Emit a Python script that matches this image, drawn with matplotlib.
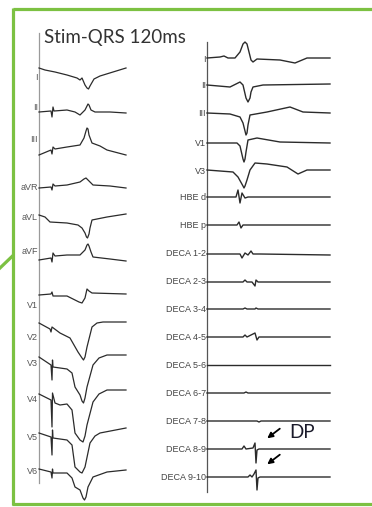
import matplotlib
matplotlib.use("Agg")
import matplotlib.pyplot as plt

# left panel: 12-lead surface ECG (t = time step, v = amplitude above the lead row)
left_leads = ["I", "II", "III", "aVR", "aVL", "aVF", "V1", "V2", "V3", "V4", "V5", "V6"]
left_t = [
    [0, 6, 16, 28, 38, 41, 43, 46, 48, 49.5, 51, 55, 61, 87],
    [0, 12, 13, 14, 15, 28, 36, 41, 46, 48, 49, 50, 52, 56, 71, 87],
    [0, 12, 13, 14, 16, 28, 41, 45, 47, 48, 49, 50, 53, 61, 68, 87],
    [0, 12, 13, 14, 16, 28, 41, 45, 47, 49, 51, 54, 71, 87],
    [0, 6, 11, 28, 39, 43, 46, 47.5, 48.5, 50, 51, 53, 68, 87],
    [0, 12, 13, 14, 16, 28, 41, 46, 48, 49, 50, 52, 54, 71, 87],
    [0, 12, 13, 14, 28, 36, 40, 43, 46, 48, 50, 53, 87],
    [0, 11, 12, 13, 21, 31, 39, 43, 44.5, 46, 48, 53, 58, 64, 87],
    [0, 12, 13, 13.5, 14, 28, 33, 36, 41, 43, 44.5, 46, 48, 54, 60, 68, 87],
    [0, 12, 13, 13.5, 16, 21, 28, 33, 36, 41, 44, 46, 48, 54, 60, 68, 87],
    [0, 12, 13, 13.5, 14, 28, 33, 36, 41, 43, 46, 51, 56, 61, 87],
    [0, 12, 13, 13.5, 14, 28, 33, 36, 41, 44, 45.5, 47, 49, 54, 68, 87],
]
left_v = [
    [9, 7, 5, 2, -1, -3, -1, -8, -11, -12, -9, -2, 1, 9],
    [-4, -3, -9, 1, -3, -2, -4, -7, -2, 2, 4, 3, -2, -4, -4, -5],
    [-16, -11, -15, -8, -10, -8, -6, 1, 8, 11, 10, 4, -4, -7, -11, -16],
    [0, 1, -2, 4, 2, 3, 6, 9, 10, 8, 6, 3, 2, 0],
    [3, 1, -4, -5, -7, -10, -15, -19, -20, -16, -10, -2, 1, 4],
    [-8, -6, -10, -1, -4, -3, -3, 2, 7, 8, 6, 0, -5, -7, -9],
    [11, 12, 14, 10, 10, 6, 4, 3, 8, 17, 15, 13, 12],
    [14, 8, 5, 10, 4, -1, -15, -21, -23, -20, -10, 10, 14, 15, 15],
    [7, -1, -16, 4, -3, -5, -9, -23, -31, -37, -39, -34, -23, -1, 6, 9, 9],
    [6, 0, -27, 7, -3, -5, -4, -10, -33, -40, -42, -36, -25, -2, 6, 10, 10],
    [4, 0, -18, 7, -1, -3, -8, -30, -35, -36, -30, -6, 1, 4, 9],
    [3, 0, -6, 3, -1, -1, -6, -15, -18, -26, -28, -25, -15, -5, 0, 2],
]

# right panel: surface leads + intracardiac electrograms
right_leads = ["I", "II", "III", "V1", "V3", "HBE d", "HBE p", "DECA 1-2", "DECA 2-3",
               "DECA 3-4", "DECA 4-5", "DECA 5-6", "DECA 6-7", "DECA 7-8", "DECA 8-9", "DECA 9-10"]
right_t = [
    [0, 13, 17, 21, 28, 33, 36, 38, 40, 42, 44, 46, 50, 73, 88, 100, 123],
    [0, 23, 29, 33, 36, 39, 41, 43, 44, 46, 56, 123],
    [0, 23, 33, 36, 38, 39, 40, 41, 43, 60, 83, 96, 123],
    [0, 30, 33, 36, 37, 38, 39, 41, 50, 73, 123],
    [0, 26, 31, 36, 37, 38, 40, 43, 48, 60, 80, 91, 100, 123],
    [0, 29, 31, 33, 35, 38, 41, 123],
    [0, 30, 32, 34, 36, 123],
    [0, 33, 35, 38, 41, 44, 46, 53, 123],
    [0, 36, 38, 40, 45, 48, 49, 51, 123],
    [0, 36, 38, 40, 48, 49, 51, 123],
    [0, 36, 38, 40, 48, 50, 52, 123],
    [0, 123],
    [0, 37, 39, 41, 123],
    [0, 50, 52, 54, 123],
    [0, 35, 37, 39, 46, 48, 49, 50, 52, 123],
    [0, 41, 43, 45, 47, 49, 50, 51, 53, 123],
]
right_v = [
    [1, 2, 3, 1, 1, 7, 15, 17, 15, 7, -1, -3, 0, -1, -4, 1, 1],
    [1, -1, 2, 4, 1, -12, -16, -12, -6, -1, 1, 2],
    [0, -1, -4, -10, -18, -22, -20, -12, -2, 1, 6, 1, 0],
    [0, 0, -3, -16, -19, -16, -9, 3, 5, 1, 0],
    [1, -1, -6, -15, -17, -15, -9, 1, 8, 7, 4, -3, 1, 1],
    [0, 0, 7, -6, 4, -1, 0, 0],
    [0, 0, 3, -3, 0, 0],
    [0, 0, -4, 1, -1, 3, 0, 0, -1],
    [0, 0, 2, 0, 0, -4, 2, 0, 0],
    [0, 0, 1, 0, 0, 1, 0, 0],
    [0, 0, 2, 0, 4, -3, 0, 0],
    [0, 0],
    [0, 0, 1, 0, 0],
    [0, 0, -1, 0, 0],
    [0, 0, 3, 0, 1, 6, -14, -1, 0, 0],
    [0, 0, 2, 0, 3, 7, -13, -1, 0, 0],
]

# layout (pixel coordinates)
left_rows = [77, 108, 139, 188, 218, 252, 306, 337, 364, 400, 437, 472]
right_rows = [59, 86, 113, 143, 171, 197, 225, 254, 282, 309, 337, 365, 393, 421, 449, 477]
left_x0, right_x0 = 39, 207
green = "#7cc142"
trace_col = "#2b2b2b"

fig = plt.figure(figsize=(3.72, 5.07), dpi=100)
ax = fig.add_axes([0, 0, 1, 1])
ax.set_xlim(0, 372)
ax.set_ylim(507, 0)
ax.axis("off")

# green frame
ax.plot([12.5, 372], [8.5, 8.5], color=green, lw=2.3, solid_capstyle="butt")
ax.plot([12.5, 12.5], [7.5, 505], color=green, lw=2.3, solid_capstyle="butt")
ax.plot([11.5, 372], [504, 504], color=green, lw=2.3, solid_capstyle="butt")
ax.plot([0, 12.5], [268, 256], color=green, lw=2.3)

ax.text(44, 37, "Stim-QRS 120ms", fontsize=13.5, family="Lato", color="#333333",
        ha="left", va="center")

# axis lines
ax.plot([left_x0, left_x0], [33, 483], color="#9a9a9a", lw=0.9)
ax.plot([right_x0, right_x0], [42, 492], color="#555555", lw=0.9)

for name, row, t, v in zip(left_leads, left_rows, left_t, left_v):
    ax.plot([left_x0 + ti for ti in t], [row - vi for vi in v], color=trace_col, lw=0.9)
    ax.text(left_x0 - 1, row, name, fontsize=6.5, family="Liberation Sans", color="#555555",
            ha="right", va="center")

for name, row, t, v in zip(right_leads, right_rows, right_t, right_v):
    ax.plot([right_x0 + ti for ti in t], [row - vi for vi in v], color=trace_col, lw=1.0)
    ax.text(right_x0 - 1, row, name, fontsize=6.5, family="Liberation Sans", color="#444444",
            ha="right", va="center")

# DP annotation
ax.text(289, 432, "DP", fontsize=13.5, family="Lato", color="#1a1a2a", ha="left", va="center")
ax.annotate("", xy=(265, 440), xytext=(282, 427),
            arrowprops=dict(arrowstyle="-|>", color="black", lw=1.3, mutation_scale=8))
ax.annotate("", xy=(265, 466), xytext=(282, 453),
            arrowprops=dict(arrowstyle="-|>", color="black", lw=1.3, mutation_scale=8))

fig.savefig("out.png", dpi=100)
